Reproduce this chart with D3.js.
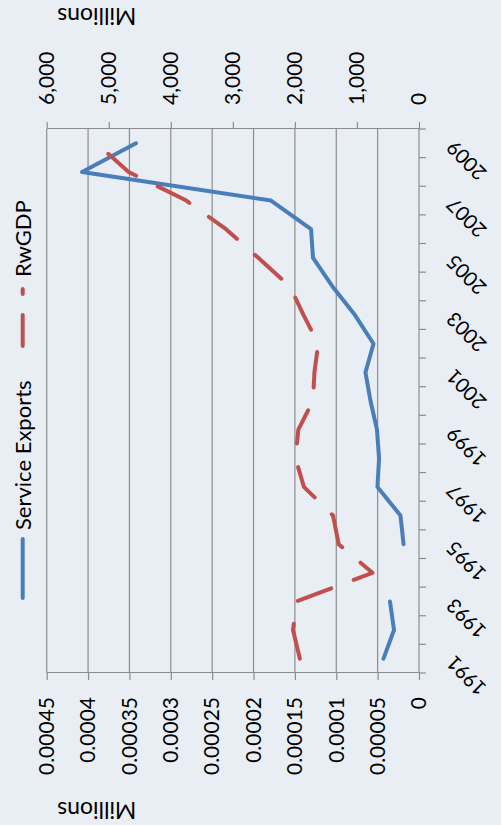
<!DOCTYPE html>
<html>
<head>
<meta charset="utf-8">
<script src="https://cdn.jsdelivr.net/npm/d3@7/dist/d3.min.js"></script>
<style>
  html, body { margin: 0; padding: 0; background: #e9eef5; }
  svg { display: block; }
  text { font-family: Lato, "Open Sans", sans-serif; fill: #000; }
</style>
</head>
<body>
<script>
// Rwanda: service exports vs GDP, 1991-2009 (chart is laid out on its side)
const years = [1991, 1992, 1993, 1994, 1995, 1996, 1997, 1998, 1999, 2000,
               2001, 2002, 2003, 2004, 2005, 2006, 2007, 2008, 2009];
const yearLabels = [1991, 1993, 1995, 1997, 1999, 2001, 2003, 2005, 2007, 2009];

// Service Exports (left axis, millions); 1994 has no value
const serviceExports = [0.0000429, 0.0000302, 0.0000351, null, 0.0000187, 0.0000224,
                        0.0000502, 0.0000483, 0.0000508, 0.0000586, 0.0000647, 0.0000550,
                        0.0000774, 0.0001046, 0.0001281, 0.0001305, 0.0001789, 0.0004073,
                        0.0003421];
// RwGDP (right axis, millions)
const rwGDP = [1920, 2030, 1975, 750, 1295, 1385, 1855, 1990, 1945, 1710,
               1685, 1625, 1860, 2080, 2590, 3110, 3750, 4680, 5200];

const leftTicks = [0, 0.00005, 0.0001, 0.00015, 0.0002, 0.00025, 0.0003, 0.00035, 0.0004, 0.00045];
const leftTickLabels = ["0", "0.00005", "0.0001", "0.00015", "0.0002", "0.00025", "0.0003", "0.00035", "0.0004", "0.00045"];
const rightTicks = [0, 1000, 2000, 3000, 4000, 5000, 6000];
const rightTickLabels = ["0", "1,000", "2,000", "3,000", "4,000", "5,000", "6,000"];

const seriesNames = ["Service Exports", "RwGDP"];
const seriesColors = ["#4a7ebb", "#c0504d"];

const W = 825, H = 501;          // chart frame before turning it
const gridColor = "#8c8c8c";

const svg = d3.select("body").append("svg")
  .attr("width", 501).attr("height", 825);

svg.append("rect").attr("width", 501).attr("height", 825).attr("fill", "#e9eef5");

// Turn the whole chart a quarter turn counter-clockwise
const g = svg.append("g").attr("transform", `translate(0,${W}) rotate(-90)`);

const plot = { left: 152, right: 696, top: 46.7, bottom: 419 };

const x = d3.scaleBand().domain(years).range([plot.left, plot.right]).padding(0);
const bw = x.bandwidth();
const yL = d3.scaleLinear().domain([0, 0.00045]).range([plot.bottom, plot.top]);
const yR = d3.scaleLinear().domain([0, 6000]).range([plot.bottom, plot.top]);

// horizontal gridlines
g.append("g").selectAll("line").data(leftTicks.filter(t => t > 0)).join("line")
  .attr("x1", plot.left).attr("x2", plot.right)
  .attr("y1", d => yL(d)).attr("y2", d => yL(d))
  .attr("stroke", gridColor).attr("stroke-width", 1.2);

function styleAxis(sel) {
  sel.select(".domain").attr("stroke", gridColor).attr("stroke-width", 1.2);
  sel.selectAll(".tick line").attr("stroke", gridColor).attr("stroke-width", 1.2);
  sel.selectAll(".tick text").style("font-size", "21px").attr("fill", "#000");
}

// left axis (Service Exports)
g.append("g").attr("transform", `translate(${plot.left},0)`)
  .call(d3.axisLeft(yL).tickValues(leftTicks).tickSize(7).tickSizeOuter(0).tickPadding(17)
        .tickFormat((d, i) => leftTickLabels[i]))
  .call(styleAxis);

// right axis (RwGDP)
g.append("g").attr("transform", `translate(${plot.right},0)`)
  .call(d3.axisRight(yR).tickValues(rightTicks).tickSize(7).tickSizeOuter(0).tickPadding(17)
        .tickFormat((d, i) => rightTickLabels[i]))
  .call(styleAxis);

// category axis: tick marks sit between years
const catAxis = g.append("g");
catAxis.append("line")
  .attr("x1", plot.left).attr("x2", plot.right)
  .attr("y1", plot.bottom).attr("y2", plot.bottom)
  .attr("stroke", gridColor).attr("stroke-width", 1.2);
catAxis.selectAll("line.tk").data(years.concat(["end"])).join("line")
  .attr("class", "tk")
  .attr("x1", d => d === "end" ? plot.right : x(d))
  .attr("x2", d => d === "end" ? plot.right : x(d))
  .attr("y1", plot.bottom).attr("y2", plot.bottom + 7)
  .attr("stroke", gridColor).attr("stroke-width", 1.2);
catAxis.selectAll("text").data(yearLabels).join("text")
  .attr("transform", d => `translate(${x(d) + bw / 2 + 4.5},${plot.bottom + 36}) rotate(-45)`)
  .attr("text-anchor", "end")
  .style("font-size", "20px")
  .text(d => d);

// axis titles
g.append("text")
  .attr("transform", `translate(23.3,96.7) rotate(-90)`)
  .attr("text-anchor", "middle").style("font-size", "23px").text("Millions");
g.append("text")
  .attr("transform", `translate(816.7,96.7) rotate(-90)`)
  .attr("text-anchor", "middle").style("font-size", "23px").text("Millions");

// series
const seData = years.map((yr, i) => ({ year: yr, v: serviceExports[i] }));
const gdpData = years.map((yr, i) => ({ year: yr, v: rwGDP[i] }));

const lineL = d3.line().defined(d => d.v != null)
  .x(d => x(d.year) + bw / 2).y(d => yL(d.v));
const lineR = d3.line().defined(d => d.v != null)
  .x(d => x(d.year) + bw / 2).y(d => yR(d.v));

g.append("path").datum(seData).attr("d", lineL)
  .attr("fill", "none").attr("stroke", seriesColors[0]).attr("stroke-width", 4)
  .attr("stroke-linejoin", "round").attr("stroke-linecap", "round");

g.append("path").datum(gdpData).attr("d", lineR)
  .attr("fill", "none").attr("stroke", seriesColors[1]).attr("stroke-width", 4)
  .attr("stroke-linejoin", "round").attr("stroke-linecap", "round")
  .attr("stroke-dasharray", "35.7,24");

// legend along the top edge
const legend = g.append("g");
legend.append("line").attr("x1", 227).attr("x2", 286).attr("y1", 22.7).attr("y2", 22.7)
  .attr("stroke", seriesColors[0]).attr("stroke-width", 4).attr("stroke-linecap", "round");
legend.append("text").attr("x", 295).attr("y", 30.5).style("font-size", "22px").text(seriesNames[0]);
legend.append("line").attr("x1", 479).attr("x2", 536).attr("y1", 22.7).attr("y2", 22.7)
  .attr("stroke", seriesColors[1]).attr("stroke-width", 4).attr("stroke-linecap", "round")
  .attr("stroke-dasharray", "31,21");
legend.append("text").attr("x", 548).attr("y", 30.5).style("font-size", "22px").text(seriesNames[1]);
</script>
</body>
</html>
